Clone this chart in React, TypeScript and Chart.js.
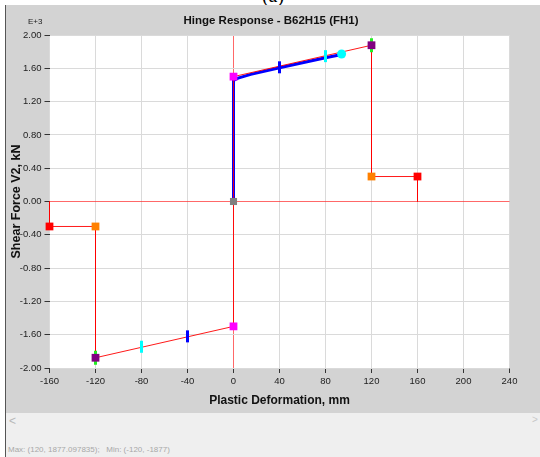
import React, { useEffect, useRef } from 'react';
import { Chart, registerables } from 'chart.js';

Chart.register(...registerables);

// ---- data (kN, mm) ----
const xTickValues = [-160, -120, -80, -40, 0, 40, 80, 120, 160, 200, 240];
const yTickValues = [-2000, -1600, -1200, -800, -400, 0, 400, 800, 1200, 1600, 2000];

const backboneX = [-160, -160, -120, -120, 0, 0, 120, 120, 160, 160];
const backboneY = [0, -300, -300, -1877, -1500, 1500, 1877, 300, 300, 0];

const curveX = [0, 0, 4, 15, 40, 80, 93];
const curveY = [0, 1455, 1482, 1527, 1606, 1726, 1762];

const greyPtX = [0];
const greyPtY = [0];
const magentaX = [0, 0];
const magentaY = [1500, -1500];
const purpleX = [120, -120];
const purpleY = [1877, -1877];
const orangeX = [120, -120];
const orangeY = [300, -300];
const redX = [160, -160];
const redY = [300, -300];
const blueTickX = [40, -40];
const blueTickY = [1612, -1620];
const cyanTickX = [80, -80];
const cyanTickY = [1746, -1745];
const cyanDotX = [94];
const cyanDotY = [1772];

const toPts = (xs: number[], ys: number[]) => xs.map((x, i) => ({ x, y: ys[i] }));

const FONT = '"Liberation Sans", Arial, sans-serif';
const NARROW = '"Liberation Sans Narrow", "Liberation Sans", Arial, sans-serif';

const bgPlugin = {
  id: 'bgPlugin',
  beforeDraw(chart: any) {
    const { ctx, chartArea } = chart;
    ctx.save();
    ctx.fillStyle = '#d3d3d3';
    ctx.fillRect(0, 0, chart.width, chart.height);
    ctx.fillStyle = '#ffffff';
    const l = Math.round(chartArea.left);
    const r = Math.round(chartArea.right);
    ctx.fillRect(l, chartArea.top, r - l, chartArea.bottom - chartArea.top);
    ctx.restore();
  },
};

const textPlugin = {
  id: 'textPlugin',
  afterDraw(chart: any) {
    const { ctx, chartArea } = chart;
    ctx.save();
    ctx.fillStyle = '#111';
    ctx.textAlign = 'center';
    ctx.textBaseline = 'alphabetic';
    ctx.font = 'bold 11.5px ' + FONT;
    ctx.fillText('Hinge Response - B62H15 (FH1)', 266, 19);

    ctx.font = '8px ' + FONT;
    ctx.textAlign = 'left';
    ctx.fillStyle = '#222';
    ctx.fillText('E+3', 23, 19);

    ctx.fillStyle = '#111';
    ctx.textAlign = 'center';
    ctx.font = 'bold 12px ' + FONT;
    ctx.fillText('Plastic Deformation, mm', (chartArea.left + chartArea.right) / 2, 399);

    ctx.translate(15, (chartArea.top + chartArea.bottom) / 2);
    ctx.rotate(-Math.PI / 2);
    ctx.font = 'bold 12.5px ' + FONT;
    ctx.fillText('Shear Force V2, kN', 0, 0);
    ctx.restore();
  },
};

export default function App() {
  const canvasRef = useRef<HTMLCanvasElement | null>(null);

  useEffect(() => {
    document.body.style.margin = '0';
    const canvas = canvasRef.current;
    if (!canvas) return;

    const gridColor = (c: any) => (c.tick && c.tick.value === 0 ? 'rgba(255,40,40,0.7)' : '#dadada');

    const chart = new Chart(canvas, {
      type: 'scatter',
      data: {
        datasets: [
          {
            label: 'curve',
            data: toPts(curveX, curveY),
            showLine: true,
            borderColor: '#0000ff',
            borderWidth: 3,
            pointRadius: 0,
            tension: 0,
            order: 6,
          },
          {
            label: 'backbone',
            data: toPts(backboneX, backboneY),
            showLine: true,
            borderColor: 'rgba(255,0,0,0.9)',
            borderWidth: 1,
            pointRadius: 0,
            tension: 0,
            order: 5,
            clip: false,
          },
          {
            label: 'green',
            data: toPts(purpleX, purpleY),
            pointStyle: 'line',
            rotation: 90,
            pointRadius: 7,
            borderWidth: 3,
            borderColor: '#22ee22',
            backgroundColor: '#22ee22',
            order: 4,
            clip: false,
          },
          {
            label: 'blueTick',
            data: toPts(blueTickX, blueTickY),
            pointStyle: 'line',
            rotation: 90,
            pointRadius: 6,
            borderWidth: 3,
            borderColor: '#0000ff',
            backgroundColor: '#0000ff',
            order: 3,
            clip: false,
          },
          {
            label: 'cyanTick',
            data: toPts(cyanTickX, cyanTickY),
            pointStyle: 'line',
            rotation: 90,
            pointRadius: 6,
            borderWidth: 3,
            borderColor: '#00ffff',
            backgroundColor: '#00ffff',
            order: 3,
            clip: false,
          },
          {
            label: 'cyanDot',
            data: toPts(cyanDotX, cyanDotY),
            pointStyle: 'circle',
            pointRadius: 4.5,
            borderWidth: 0,
            backgroundColor: '#00ffff',
            order: 3,
            clip: false,
          },
          {
            label: 'grey',
            data: toPts(greyPtX, greyPtY),
            pointStyle: 'rect',
            pointRadius: 5,
            borderWidth: 0,
            backgroundColor: '#808080',
            order: 2,
            clip: false,
          },
          {
            label: 'magenta',
            data: toPts(magentaX, magentaY),
            pointStyle: 'rect',
            pointRadius: 5.5,
            borderWidth: 0,
            backgroundColor: '#ff00ff',
            order: 2,
            clip: false,
          },
          {
            label: 'orange',
            data: toPts(orangeX, orangeY),
            pointStyle: 'rect',
            pointRadius: 5.5,
            borderWidth: 0,
            backgroundColor: '#ff8000',
            order: 2,
            clip: false,
          },
          {
            label: 'red',
            data: toPts(redX, redY),
            pointStyle: 'rect',
            pointRadius: 5.5,
            borderWidth: 0,
            backgroundColor: '#ff0000',
            order: 2,
            clip: false,
          },
          {
            label: 'purple',
            data: toPts(purpleX, purpleY),
            pointStyle: 'rect',
            pointRadius: 5.5,
            borderWidth: 0,
            backgroundColor: '#800080',
            order: 1,
            clip: false,
          },
        ],
      },
      options: {
        animation: false,
        responsive: false,
        maintainAspectRatio: false,
        devicePixelRatio: 1,
        layout: { padding: { left: 0.5, top: 30, right: 30.5, bottom: 0 } },
        plugins: {
          legend: { display: false },
          tooltip: { enabled: false },
          title: { display: false },
        },
        scales: {
          x: {
            type: 'linear',
            min: -160,
            max: 240,
            afterBuildTicks: (s: any) => {
              s.ticks = xTickValues.map((v) => ({ value: v }));
            },
            afterFit: (s: any) => {
              s.height = 45;
            },
            border: { display: false },
            grid: {
              color: gridColor,
              lineWidth: 1,
              tickLength: 5,
              tickColor: '#333',
              drawTicks: true,
            },
            ticks: {
              padding: 3,
              color: '#222',
              font: { family: NARROW, size: 9.5 },
              maxRotation: 0,
              callback: (v: any) => String(v),
            },
          },
          y: {
            type: 'linear',
            min: -2000,
            max: 2000,
            afterBuildTicks: (s: any) => {
              s.ticks = yTickValues.map((v) => ({ value: v }));
            },
            afterFit: (s: any) => {
              s.width = 44;
            },
            border: { display: false },
            grid: {
              color: gridColor,
              lineWidth: 1,
              tickLength: 5,
              tickColor: '#333',
              drawTicks: true,
            },
            ticks: {
              padding: 3,
              color: '#222',
              font: { family: NARROW, size: 9.5 },
              callback: (v: any) => (Number(v) / 1000).toFixed(2),
            },
          },
        },
      },
      plugins: [bgPlugin, textPlugin],
    } as any);

    return () => chart.destroy();
  }, []);

  return (
    <div style={{ position: 'relative', width: 540, height: 457, overflow: 'hidden', background: '#fff' }}>
      <div
        style={{
          position: 'absolute',
          left: 0,
          width: 540,
          top: -15,
          textAlign: 'center',
          fontFamily: '"Liberation Serif", serif',
          fontSize: 20,
          lineHeight: '20px',
          color: '#000',
          paddingLeft: 3,
        }}
      >
        (a)
      </div>
      <div
        style={{
          position: 'absolute',
          left: 5,
          top: 5,
          width: 535,
          height: 452,
          background: '#efefef',
        }}
      />
      <canvas
        ref={canvasRef}
        width={535}
        height={408}
        style={{ position: 'absolute', left: 5, top: 5, width: 535, height: 408 }}
      />
      <div style={{ position: 'absolute', left: 5, top: 5, width: 1, height: 452, background: '#555' }} />
      <div
        style={{
          position: 'absolute',
          left: 9,
          top: 414,
          fontFamily: FONT,
          fontSize: 12,
          color: '#b8b8b8',
        }}
      >
        {'<'}
      </div>
      <div
        style={{
          position: 'absolute',
          left: 532,
          top: 414,
          fontFamily: FONT,
          fontSize: 10,
          color: '#c8c8c8',
        }}
      >
        {'>'}
      </div>
      <div
        style={{
          position: 'absolute',
          left: 8,
          top: 445,
          fontFamily: FONT,
          fontSize: 8,
          color: '#a8a8a8',
          whiteSpace: 'pre',
        }}
      >
        {'Max: (120, 1877.097835);   Min: (-120, -1877)'}
      </div>
    </div>
  );
}
